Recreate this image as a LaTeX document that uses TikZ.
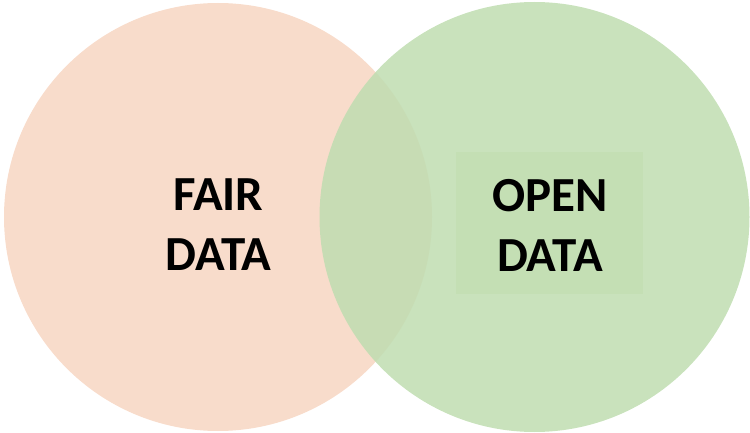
\documentclass[tikz,border=0pt]{standalone}
\usepackage{fontspec}
\setmainfont{Carlito}
\definecolor{fairfill}{RGB}{248,220,203}
\definecolor{openfill}{RGB}{191,221,176}
\definecolor{openbox}{RGB}{196,223,180}
\tikzset{
    setcircle/.style={fill=#1,draw=none},
    setlabel/.style={align=center,inner sep=0pt,font=\fontsize{49}{60}\selectfont\bfseries}
}

\begin{document}
\begin{tikzpicture}[x=1pt,y=1pt]
    \useasboundingbox (0,0) rectangle (750,432);
    \begin{scope} % FAIR
        \fill[setcircle=fairfill] (218,215) circle (214);
        \node[setlabel] (fair) at (218.5,207) {FAIR\\DATA};
    \end{scope}
    \begin{scope} % OPEN
        \fill[setcircle=openfill,fill opacity=0.85] (534.5,215) circle (215);
        \fill[openbox] (455.6,138) rectangle (642.7,280);
        \node[setlabel] (open) at (550,207) {OPEN\\DATA};
    \end{scope}
\end{tikzpicture}
\end{document}
